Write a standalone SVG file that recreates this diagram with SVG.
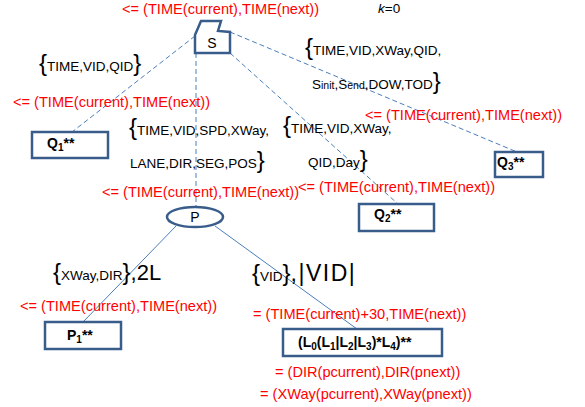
<svg xmlns="http://www.w3.org/2000/svg" width="585" height="407" viewBox="0 0 585 407">
<style>
.red{fill:#FF0000;font-family:"Liberation Sans",Arial,sans-serif;font-size:14.6px}
.blk{fill:#000;font-family:"Liberation Sans",Arial,sans-serif;font-size:13.5px}
.br{font-size:24px}
.lbl{fill:#000;font-family:"Liberation Sans",Arial,sans-serif;font-size:14px;font-weight:bold}
.box{fill:#fff;stroke:#385D8A;stroke-width:2.5}
.dash{stroke:#4A7EBB;stroke-width:1;stroke-dasharray:5,3;fill:none}
.solid{stroke:#4A7EBB;stroke-width:1;fill:none}
</style>
<rect width="585" height="407" fill="#fff"/>
<g id="connectors">
<line class="dash" x1="195" y1="36" x2="72" y2="132"/>
<line class="dash" x1="196" y1="53" x2="196" y2="207"/>
<line class="dash" x1="230" y1="53" x2="398" y2="204"/>
<line class="dash" x1="230" y1="32" x2="517" y2="152"/>
<line class="solid" x1="176" y1="226" x2="83" y2="322"/>
<line class="solid" x1="215" y1="226" x2="357" y2="329"/>
</g>
<g id="labels">
<text class="red" x="122" y="14">&lt;= (TIME(current),TIME(next))</text>
<text class="blk" x="378" y="13" font-size="14px"><tspan font-style="italic">k</tspan>=0</text>
<text class="blk" x="39" y="71" font-size="14px"><tspan class="br">{</tspan>TIME,VID,QID<tspan class="br">}</tspan></text>
<text class="red" x="13" y="107">&lt;= (TIME(current),TIME(next))</text>
<text class="blk" x="129" y="135"><tspan class="br">{</tspan>TIME,VID,SPD,XWay,</text>
<text class="blk" x="130" y="168">LANE,DIR,SEG,POS<tspan class="br">}</tspan></text>
<text class="red" x="102" y="197">&lt;= (TIME(current),TIME(next))</text>
<text class="blk" x="283" y="133"><tspan class="br">{</tspan>TIME,VID,XWay,</text>
<text class="blk" x="308" y="167">QID,Day<tspan class="br">}</tspan></text>
<text class="red" x="298" y="192">&lt;= (TIME(current),TIME(next))</text>
<text class="blk" x="305" y="55"><tspan class="br">{</tspan>TIME,VID,XWay,QID,</text>
<text class="blk" x="312" y="89">S<tspan font-size="10.5px">init</tspan>,S<tspan font-size="10.5px">end</tspan>,DOW,TOD<tspan class="br">}</tspan></text>
<text class="red" x="365" y="120">&lt;= (TIME(current),TIME(next))</text>
<text class="blk" x="53" y="280"><tspan class="br">{</tspan>XWay,DIR<tspan class="br">}</tspan><tspan font-size="22px">,2L</tspan></text>
<text class="red" x="20" y="311">&lt;= (TIME(current),TIME(next))</text>
<text class="blk" x="252" y="281"><tspan class="br">{</tspan>VID<tspan class="br">}</tspan><tspan font-size="23px" letter-spacing="1.5">,|VID|</tspan></text>
<text class="red" x="253" y="319">= (TIME(current)+30,TIME(next))</text>
<text class="red" x="275" y="377">= (DIR(pcurrent),DIR(pnext))</text>
<text class="red" x="260" y="399">= (XWay(pcurrent),XWay(pnext))</text>
</g>
<g id="S">
<path class="box" d="M195,35 L201,21 L221,21 L218,31 L230,32 L230,53 L195,53 Z"/>
<text x="212" y="48" text-anchor="middle" font-family="Liberation Sans, Arial, sans-serif" font-size="14">S</text>
</g>
<g id="Q1">
<rect class="box" x="32" y="132" width="76" height="26"/>
<text class="lbl" x="47" y="148">Q<tspan font-size="10" dy="3">1</tspan><tspan dy="-3">**</tspan></text>
</g>
<g id="P">
<ellipse class="box" cx="195" cy="217" rx="28" ry="10"/>
<text x="195" y="222" text-anchor="middle" font-family="Liberation Sans, Arial, sans-serif" font-size="14">P</text>
</g>
<g id="Q2">
<rect class="box" x="359" y="204" width="75" height="27"/>
<text class="lbl" x="374" y="219">Q<tspan font-size="10" dy="3">2</tspan><tspan dy="-3">**</tspan></text>
</g>
<g id="Q3">
<rect class="box" x="495" y="152" width="48" height="25"/>
<text class="lbl" x="497" y="167">Q<tspan font-size="10" dy="3">3</tspan><tspan dy="-3">**</tspan></text>
</g>
<g id="P1">
<rect class="box" x="45" y="322" width="76" height="27"/>
<text class="lbl" x="67" y="340">P<tspan font-size="10" dy="3">1</tspan><tspan dy="-3">**</tspan></text>
</g>
<g id="L">
<rect class="box" x="283" y="329" width="159" height="27"/>
<text class="lbl" x="298" y="347">(L<tspan font-size="10" dy="3">0</tspan><tspan dy="-3">(L</tspan><tspan font-size="10" dy="3">1</tspan><tspan dy="-3">|L</tspan><tspan font-size="10" dy="3">2</tspan><tspan dy="-3">|L</tspan><tspan font-size="10" dy="3">3</tspan><tspan dy="-3">)*L</tspan><tspan font-size="10" dy="3">4</tspan><tspan dy="-3">)**</tspan></text>
</g>
</svg>
